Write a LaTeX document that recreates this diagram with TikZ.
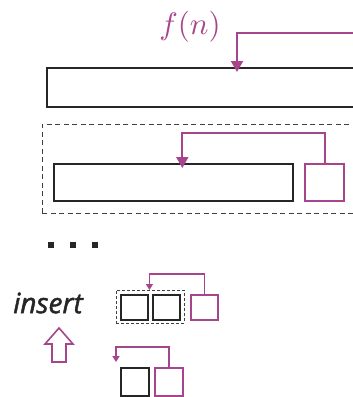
\documentclass[tikz,border=0pt]{standalone}
\usepackage{fontspec}
\usepackage{tikz}
\usetikzlibrary{arrows.meta,positioning}
\newfontfamily\insfont[FakeBold=1.6]{Open Sans}
\definecolor{pur}{RGB}{166,68,140}

\begin{document}
\begin{tikzpicture}[x=1pt, y=-1pt,
  box/.style={draw=black!85, line width=1.6pt, inner sep=0pt, anchor=north west},
  pbox/.style={draw=pur, line width=2pt, inner sep=0pt, anchor=north west},
  dbox/.style={draw=black!75, dash pattern=on 5pt off 3.5pt, line width=0.9pt, inner sep=0pt, anchor=north west},
  arr/.style={draw=pur, line width=2pt, -{Triangle[length=11pt,width=12pt]}},
  sarr/.style={draw=pur, line width=1.6pt, -{Triangle[length=6pt,width=7pt]}}]
\clip (0,0) rectangle (353,397);
% level 0
\node[text=pur, scale=3.1] (fn) at (190,27) {$f(n)$};
\node[box, minimum width=340pt, minimum height=39pt] (top) at (46,67) {};
\coordinate (fnin) at (360,33);
\draw[arr] (fnin) -| ([xshift=191pt,yshift=-5pt]top.north west);
% level 1
\node[dbox, minimum width=330pt, minimum height=89pt] (lvl) at (42,124) {};
\node[box, minimum width=239pt, minimum height=37pt] (mid) at (53,163) {};
\node[pbox, minimum width=39pt, minimum height=37pt] (msq) at (304,163) {};
\draw[arr] (msq.north) -- ++(0,-30) -| ([xshift=9pt,yshift=-5pt]mid.north);
% dots
\foreach \x in {51,73,95}
  \fill[black!85] (\x-3,242) rectangle (\x+3,248);
% insert
\node[font=\insfont\itshape\fontsize{28}{30}\selectfont, text=black!85] (ins) at (48,303) {insert};
\draw[pur, line width=1.6pt, line join=miter]
  (59,328) -- (73,344) -- (66,344) -- (66,362) -- (52,362) -- (52,344) -- (45,344) -- cycle;
% small nodes
\node[dbox, dash pattern=on 3pt off 2pt, minimum width=68pt, minimum height=33pt] (grp) at (116,290) {};
\node[box, minimum width=27pt, minimum height=25pt] (s1) at (120,294) {};
\node[box, minimum width=27pt, minimum height=25pt] (s2) at (152,294) {};
\node[pbox, minimum width=27pt, minimum height=25pt] (s3) at (190,294) {};
\draw[sarr] (s3.north) -- ++(0,-20) -| ([xshift=-1pt]grp.north);
\node[box, minimum width=28pt, minimum height=28pt] (b1) at (120,367) {};
\node[pbox, minimum width=28pt, minimum height=28pt] (b2) at (154,367) {};
\draw[sarr] (b2.north) -- ++(0,-20) -| ([xshift=-4pt,yshift=5pt]b1.north west);
\end{tikzpicture}
\end{document}
